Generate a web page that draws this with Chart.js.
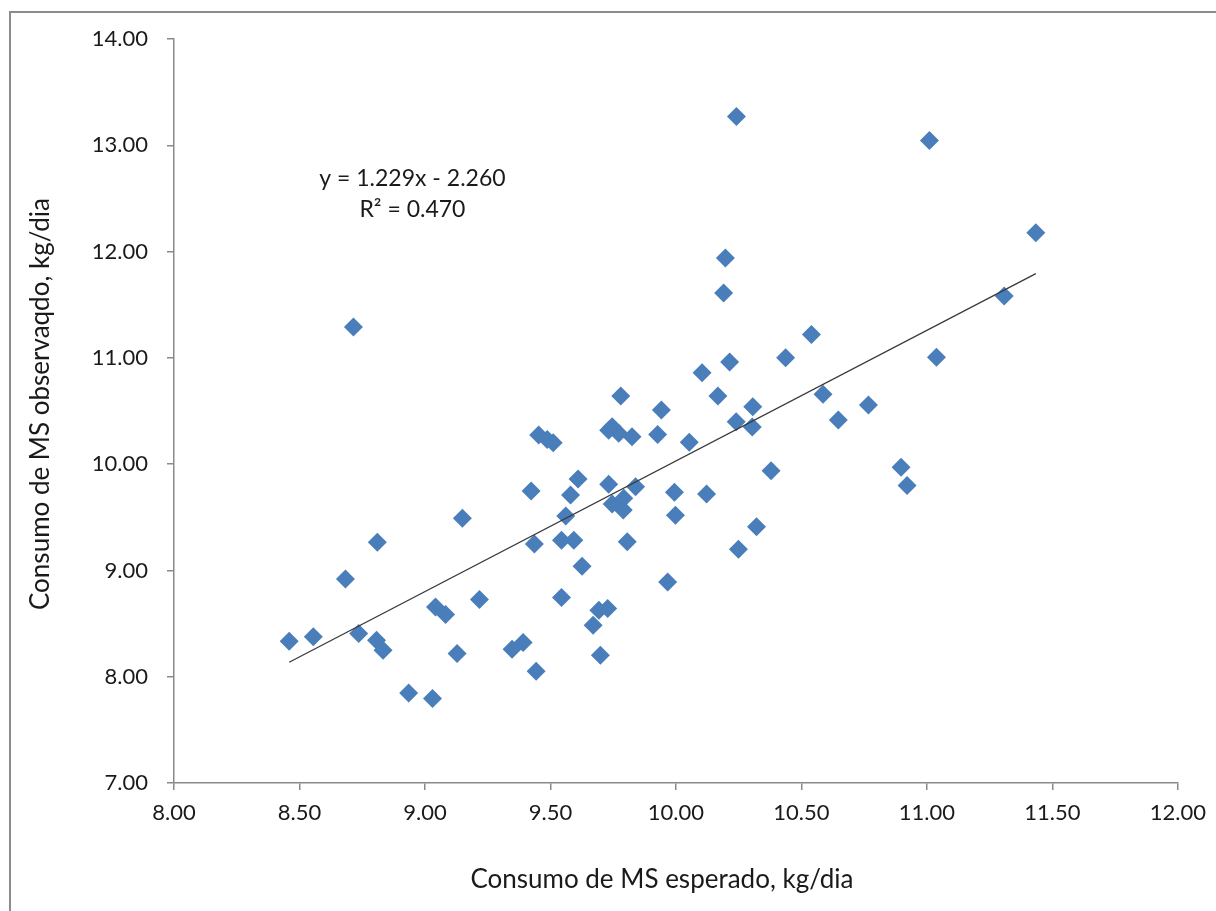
<!DOCTYPE html>
<html>
<head>
<meta charset="utf-8">
<script src="https://cdn.jsdelivr.net/npm/chart.js@4.4.1/dist/chart.umd.min.js"></script>
<style>
  html, body { margin: 0; padding: 0; background: #ffffff; }
  #wrap { position: relative; width: 1216px; height: 911px; overflow: hidden; }
  #frame { position: absolute; left: 9px; top: 11px; width: 1300px; height: 1000px;
           border-left: 2px solid #8c8c8c; border-top: 2px solid #8c8c8c; }
  canvas { position: absolute; left: 0; top: 0; }
</style>
</head>
<body>
<div id="wrap">
  <div id="frame"></div>
  <canvas id="c" width="1216" height="911"></canvas>
</div>
<script>
// ---- data ----
const expected = [8.459, 8.555, 8.683, 8.715, 8.736, 8.807, 8.810, 8.833, 8.935, 9.030,
  9.042, 9.082, 9.128, 9.149, 9.217, 9.347, 9.391, 9.423, 9.436, 9.443,
  9.453, 9.487, 9.511, 9.544, 9.544, 9.561, 9.580, 9.593, 9.610, 9.626,
  9.670, 9.693, 9.699, 9.728, 9.732, 9.746, 9.732, 9.746, 9.772, 9.780,
  9.790, 9.792, 9.806, 9.825, 9.839, 9.927, 9.942, 9.967, 9.994, 9.998,
  10.053, 10.104, 10.122, 10.167, 10.190, 10.197, 10.214, 10.240, 10.241, 10.249,
  10.304, 10.306, 10.321, 10.379, 10.437, 10.540, 10.586, 10.647, 10.767, 10.897,
  10.921, 11.010, 11.038, 11.308, 11.434];
const observed = [8.334, 8.375, 8.92, 11.29, 8.407, 8.344, 9.264, 8.25, 7.847, 7.795,
  8.657, 8.586, 8.218, 9.49, 8.727, 8.259, 8.322, 9.747, 9.248, 8.052,
  10.274, 10.233, 10.202, 9.285, 8.746, 9.511, 9.71, 9.285, 9.86, 9.04,
  8.485, 8.626, 8.203, 8.642, 9.81, 9.624, 10.32, 10.352, 10.29, 10.64,
  9.568, 9.678, 9.27, 10.258, 9.787, 10.28, 10.51, 8.89, 9.735, 9.52,
  10.205, 10.86, 9.72, 10.64, 11.61, 11.94, 10.96, 10.40, 13.27, 9.20,
  10.35, 10.54, 9.41, 9.938, 11.00, 11.22, 10.657, 10.415, 10.556, 9.97,
  9.80, 13.045, 11.006, 11.583, 12.176];
const trendSlope = 1.229;
const trendIntercept = -2.260;
const equationLines = ["y = 1.229x - 2.260", "R² = 0.470"];
const xTitle = "Consumo de MS esperado, kg/dia";
const yTitle = "Consumo de MS observaqdo, kg/dia";
const xRange = [8, 12, 0.5];
const yRange = [7, 14, 1];

// ---- build datasets ----
const pts = expected.map((x, i) => ({ x: x, y: observed[i] }));
const xMin = Math.min(...expected), xMax = Math.max(...expected);
const trend = [xMin, xMax].map(x => ({ x: x, y: trendSlope * x + trendIntercept }));

const FONT = "Lato, 'Liberation Sans', sans-serif";
const AXIS = '#8a8a8a';

const textPlugin = {
  id: 'texts',
  afterDraw(chart) {
    const ctx = chart.ctx;
    const xs = chart.scales.x, ys = chart.scales.y;
    ctx.save();
    ctx.fillStyle = '#1a1a1a';
    ctx.textAlign = 'center';
    ctx.textBaseline = 'middle';
    ctx.font = "23px " + FONT;
    // equation, anchored in data space
    const ex = xs.getPixelForValue(8.95);
    const ey = ys.getPixelForValue(12.69);
    ctx.fillText(equationLines[0], ex, ey);
    ctx.fillText(equationLines[1], ex, ey + 31);
    // axis titles
    ctx.font = "26px " + FONT;
    ctx.fillText(xTitle, (xs.left + xs.right) / 2 - 14, 880);
    ctx.translate(41, (ys.top + ys.bottom) / 2 - 7);
    ctx.rotate(-Math.PI / 2);
    ctx.fillText(yTitle, 0, 0);
    ctx.restore();
  }
};

new Chart(document.getElementById('c'), {
  type: 'scatter',
  data: {
    datasets: [
      {
        label: 'dados',
        data: pts,
        pointStyle: 'rectRot',
        pointRadius: 9.5,
        pointBackgroundColor: '#4a7ebb',
        pointBorderColor: '#4a7ebb',
        pointBorderWidth: 0,
        order: 2
      },
      {
        label: 'tendência',
        type: 'line',
        data: trend,
        borderColor: '#3a3a3a',
        borderWidth: 1.3,
        pointRadius: 0,
        fill: false,
        order: 1
      }
    ]
  },
  plugins: [textPlugin],
  options: {
    responsive: false,
    animation: false,
    devicePixelRatio: 1,
    layout: { padding: { left: 0, top: 39, right: 38, bottom: 0 } },
    plugins: { legend: { display: false }, tooltip: { enabled: false } },
    scales: {
      x: {
        type: 'linear',
        min: xRange[0], max: xRange[1],
        afterFit(s) { s.height = 128; },
        ticks: {
          stepSize: xRange[2],
          color: '#1a1a1a',
          font: { family: FONT, size: 22 },
          padding: 10,
          maxRotation: 0,
          callback: v => Number(v).toFixed(2)
        },
        grid: { display: true, drawOnChartArea: false, drawTicks: true, tickLength: 7, color: AXIS, lineWidth: 1.5 },
        border: { display: true, color: AXIS, width: 1.5 }
      },
      y: {
        type: 'linear',
        min: yRange[0], max: yRange[1],
        afterFit(s) { s.width = 174; },
        ticks: {
          stepSize: yRange[2],
          color: '#1a1a1a',
          font: { family: FONT, size: 22 },
          padding: 19,
          callback: v => Number(v).toFixed(2)
        },
        grid: { display: true, drawOnChartArea: false, drawTicks: true, tickLength: 7, color: AXIS, lineWidth: 1.5 },
        border: { display: true, color: AXIS, width: 1.5 }
      }
    }
  }
});
</script>
</body>
</html>
